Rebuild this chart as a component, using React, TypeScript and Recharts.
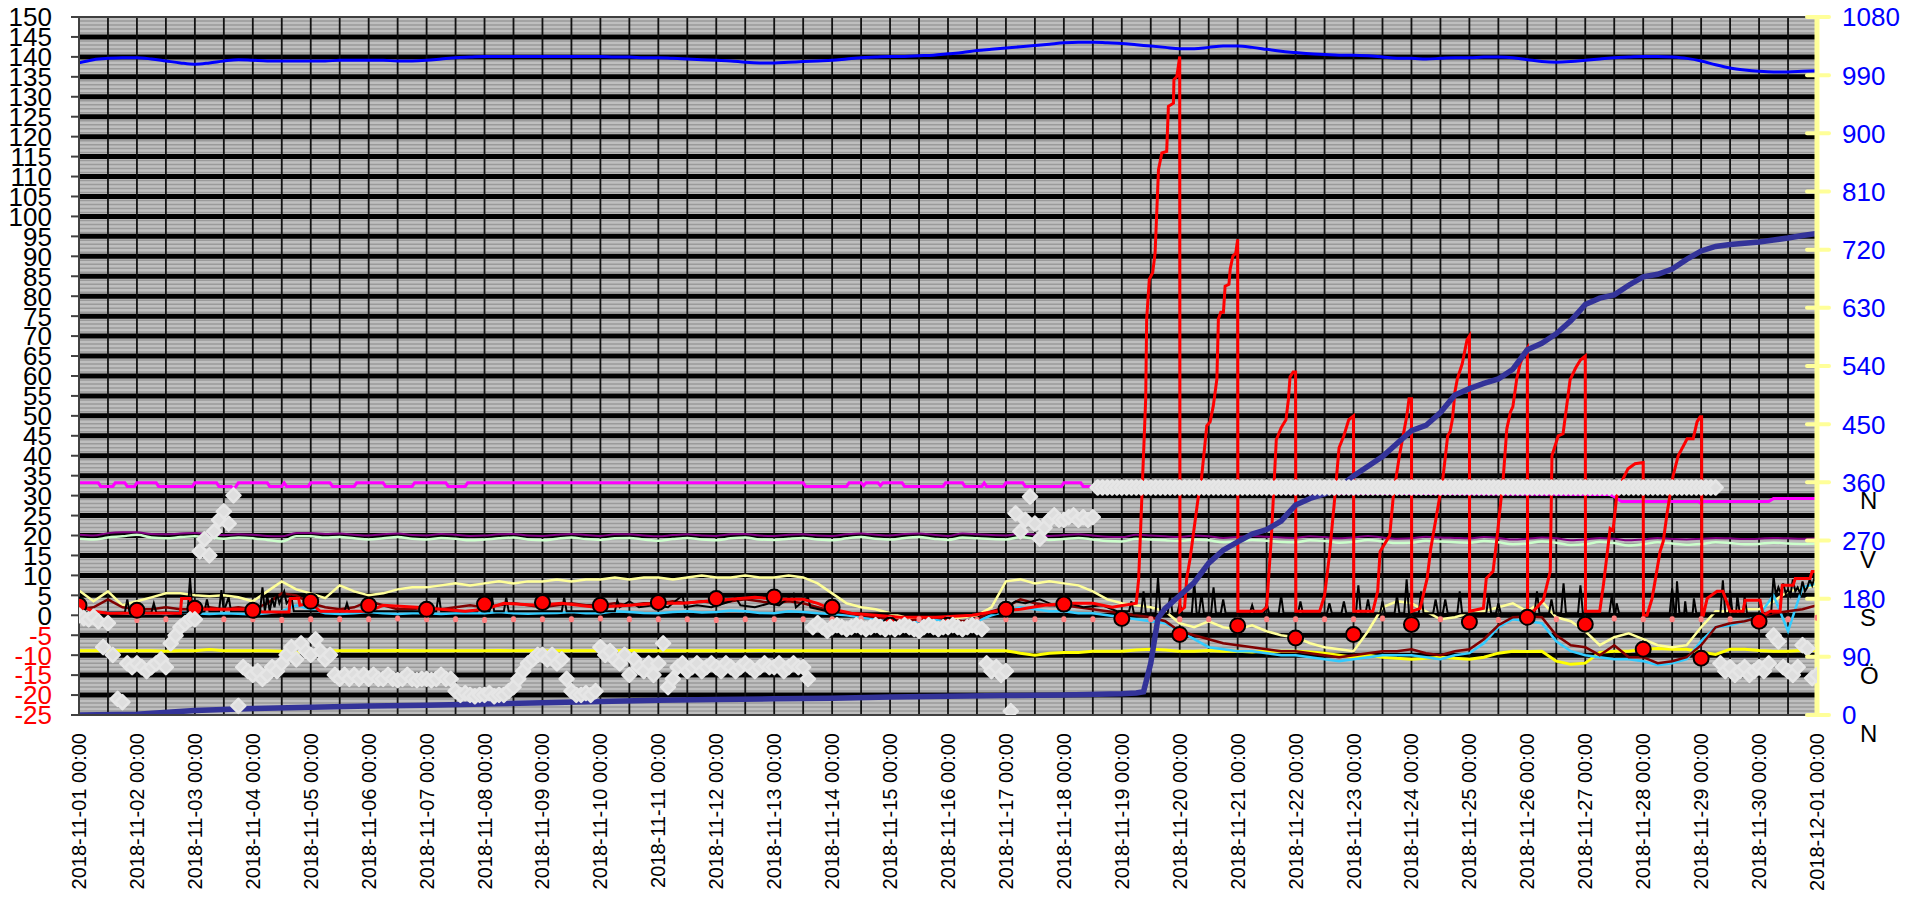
import React from 'react';
import { ComposedChart, Line, Scatter, XAxis, YAxis, CartesianGrid, ReferenceLine } from 'recharts';

const font = 'Liberation Sans, Arial, sans-serif';

const dayLabels = [
  '2018-11-01 00:00', '2018-11-02 00:00', '2018-11-03 00:00', '2018-11-04 00:00', '2018-11-05 00:00',
  '2018-11-06 00:00', '2018-11-07 00:00', '2018-11-08 00:00', '2018-11-09 00:00', '2018-11-10 00:00',
  '2018-11-11 00:00', '2018-11-12 00:00', '2018-11-13 00:00', '2018-11-14 00:00', '2018-11-15 00:00',
  '2018-11-16 00:00', '2018-11-17 00:00', '2018-11-18 00:00', '2018-11-19 00:00', '2018-11-20 00:00',
  '2018-11-21 00:00', '2018-11-22 00:00', '2018-11-23 00:00', '2018-11-24 00:00', '2018-11-25 00:00',
  '2018-11-26 00:00', '2018-11-27 00:00', '2018-11-28 00:00', '2018-11-29 00:00', '2018-11-30 00:00',
  '2018-12-01 00:00',
];

const leftTicks = [-25, -20, -15, -10, -5, 0, 5, 10, 15, 20, 25, 30, 35, 40, 45, 50, 55, 60, 65, 70, 75,
  80, 85, 90, 95, 100, 105, 110, 115, 120, 125, 130, 135, 140, 145, 150];
const rightTicks = [0, 90, 180, 270, 360, 450, 540, 630, 720, 810, 900, 990, 1080];
const compassLabels: Record<number, string> = { 0: 'N', 90: 'Ö', 180: 'S', 270: 'V', 360: 'N' };

// 6-hourly series, 2018-11-01 00:00 .. 2018-12-01 00:00 (4 values per day)
const pressure = [
  1009, 1014, 1016, 1017, 1017, 1015, 1012, 1009, 1007, 1009, 1012, 1014, 1013, 1012, 1012, 1012,
  1012, 1012, 1013, 1013, 1013, 1013, 1012, 1012, 1013, 1015, 1017, 1018, 1019, 1019, 1019, 1019,
  1019, 1019, 1019, 1019, 1019, 1018, 1018, 1017, 1017, 1016, 1015, 1014, 1013, 1012, 1010, 1009,
  1009, 1010, 1011, 1012, 1013, 1015, 1017, 1018, 1019, 1019, 1020, 1021, 1023, 1025, 1028, 1030,
  1032, 1034, 1036, 1038, 1040, 1041, 1041, 1040, 1039, 1037, 1035, 1033, 1031, 1031, 1033, 1035,
  1035, 1033, 1030, 1027, 1025, 1023, 1022, 1021, 1021, 1020, 1018, 1016, 1016, 1015, 1016, 1017,
  1017, 1018, 1018, 1017, 1014, 1011, 1010, 1011, 1013, 1015, 1017, 1018, 1019, 1019, 1018, 1016,
  1012, 1006, 1001, 998, 996, 995, 995, 996, 997,
];
const yellowLine = [
  -8.9, -8.9, -8.8, -8.9, -8.9, -8.9, -9.0, -8.9, -8.9, -8.6, -8.9, -8.9, -8.9, -8.9, -9.0, -9.3,
  -9.2, -8.9, -8.9, -8.9, -8.9, -8.9, -8.8, -8.9, -8.9, -8.9, -8.9, -8.9, -8.9, -8.8, -8.9, -8.9,
  -8.9, -8.9, -8.9, -8.9, -8.9, -8.9, -8.8, -8.9, -8.9, -8.9, -8.9, -8.9, -8.9, -8.9, -8.9, -8.8,
  -8.9, -8.9, -8.9, -8.9, -8.9, -8.9, -8.9, -8.9, -8.9, -8.9, -8.9, -8.9, -8.9, -8.9, -8.9, -8.9,
  -8.9, -9.5, -10.0, -9.5, -9.3, -9.3, -9.0, -9.0, -9.0, -8.7, -8.5, -8.7, -9.0, -9.0, -8.8, -9.0,
  -9.0, -9.2, -9.0, -9.0, -9.0, -9.2, -9.5, -10.0, -10.5, -10.0, -10.5, -10.8, -11.0, -10.8, -10.5, -10.8,
  -11.0, -10.5, -9.5, -9.0, -9.1, -9.0, -11.5, -12.3, -12.0, -9.3, -9.0, -9.0, -8.5, -8.3, -8.5, -8.5,
  -9.2, -9.8, -8.5, -8.5, -8.8, -9.0, -9.0, -8.8, -8.8,
];
const paleYellowLine = [
  6.2, 3.5, 6.0, 2.5, 3.5, 4.5, 5.5, 5.5, 5.0, 4.8, 5.0, 4.5, 3.5, 6.0, 8.5, 6.5,
  5.5, 4.3, 7.5, 6.0, 5.0, 5.5, 6.5, 7.0, 7.0, 7.5, 8.0, 7.5, 8.0, 8.5, 8.0, 8.5,
  8.5, 9.0, 8.5, 9.0, 9.0, 9.5, 9.0, 9.5, 9.5, 9.0, 9.5, 10.0, 9.5, 9.5, 10.0, 9.5,
  9.5, 10.0, 9.5, 8.0, 5.5, 3.0, 2.0, 1.5, 0.5, -0.5, -1.0, -0.5, -1.0, -0.5, 0.0, 2.0,
  8.5, 9.0, 8.0, 8.5, 8.0, 7.5, 6.0, 4.0, 3.0, 2.5, 2.0, 1.0, -2.0, -3.0, -1.5, -3.0,
  -3.5, -2.5, -4.0, -5.0, -5.5, -7.0, -8.0, -8.5, -9.0, -4.0, 2.0, 3.5, 3.0, 1.0, -1.0, -0.5,
  0.5, 1.0, 2.0, 3.0, 1.0, 3.5, -0.5, -1.5, -4.0, -7.5, -5.5, -4.5, -6.0, -7.5, -8.0, -7.5,
  -3.0, 1.0, 1.0, 1.5, 1.5, 3.5, 6.0, 6.8, 7.5,
];
const cyanLine = [
  0.3, 0.5, 0.8, 0.5, 0.2, 0.5, 0.3, 0.8, 0.5, 0.3, 0.5, 0.4, 0.2, 0.5, 1.0, 2.5,
  1.5, 0.5, 0.3, 0.5, 0.8, 0.5, 0.3, 0.5, 0.5, 0.3, 0.5, 0.6, 0.5, 0.8, 0.5, 0.4,
  0.5, 0.6, 0.8, 0.5, 0.5, 1.0, 0.8, 0.6, 0.5, 0.8, 1.0, 0.7, 0.8, 1.2, 1.0, 0.6,
  0.5, 1.0, 0.8, 0.5, 0.3, 0.0, -0.5, -1.0, -1.5, -2.0, -1.5, -1.0, -1.5, -2.0, -1.5, 0.0,
  1.0, 2.0, 1.5, 1.0, 1.0, 0.5, 0.5, 0.0, -0.5, -1.0, -1.5, -2.0, -4.0, -6.0, -8.0, -8.5,
  -9.0, -9.0, -9.5, -10.0, -10.0, -10.5, -11.0, -11.5, -11.0, -10.5, -10.0, -10.0, -10.0, -10.5, -11.0, -10.0,
  -9.5, -7.0, -3.0, -1.0, -1.5, -2.0, -6.5, -9.0, -10.0, -10.5, -11.0, -11.0, -11.5, -12.5, -12.0, -11.0,
  -6.5, -3.0, -2.5, -1.5, 0.0, 5.0, -4.0, 7.0, 8.0,
];
const maroonLine = [
  1.5, 2.0, 4.0, 2.0, 1.5, 1.5, 2.0, 1.5, 1.5, 2.0, 1.5, 2.0, 1.5, 3.0, 5.5, 5.0,
  3.0, 2.0, 1.5, 2.0, 3.5, 2.5, 1.5, 1.5, 2.0, 1.5, 2.0, 2.5, 2.0, 2.5, 3.0, 2.5,
  2.0, 2.5, 3.0, 2.5, 2.5, 3.0, 2.5, 3.0, 3.0, 3.5, 3.0, 3.5, 3.0, 3.5, 4.0, 3.5,
  3.0, 3.5, 3.0, 2.0, 1.0, 0.5, 0.0, -0.5, -1.0, -1.5, -1.0, -0.5, -1.0, -1.5, -1.0, 1.0,
  2.0, 4.0, 3.0, 2.5, 2.5, 2.0, 1.5, 1.0, 0.5, 0.0, -0.5, -1.5, -4.0, -5.0, -6.0, -7.0,
  -7.5, -8.0, -8.5, -9.0, -9.0, -9.5, -10.0, -10.5, -10.0, -9.5, -9.0, -9.0, -8.5, -9.5, -10.0, -9.0,
  -8.5, -6.0, -2.5, -0.5, -0.3, -0.5, -5.0, -7.5, -8.0, -10.0, -7.5, -10.5, -10.5, -12.0, -11.5, -10.5,
  -7.5, -3.0, -2.0, -1.5, -0.5, 0.5, 1.0, 1.5, 2.5,
];
const greenLine = [
  19.2, 19.0, 19.5, 19.8, 20.2, 19.5, 19.3, 19.6, 19.8, 19.5, 19.2, 19.5, 19.3, 18.9, 18.5, 19.8,
  19.8, 19.5, 19.6, 19.3, 19.0, 19.3, 19.6, 19.2, 19.0, 19.4, 19.2, 18.8, 19.0, 19.3, 19.5, 19.0,
  18.8, 19.2, 19.5, 19.1, 18.9, 19.3, 19.4, 19.0, 18.7, 19.1, 19.4, 19.0, 18.8, 19.3, 19.5, 19.0,
  18.9, 19.2, 19.4, 19.0, 18.8, 19.3, 19.6, 19.2, 19.0, 19.4, 19.6, 19.2, 18.9, 19.5, 19.3, 19.1,
  19.0, 19.6, 19.2, 18.9, 19.1, 19.4, 19.0, 18.6, 18.5, 19.2, 19.0, 18.8, 18.6, 19.0, 18.8, 18.3,
  18.5, 18.9, 18.7, 18.4, 18.3, 18.8, 18.6, 18.2, 18.4, 18.9, 18.5, 18.1, 18.2, 18.7, 18.5, 18.3,
  18.2, 18.6, 18.3, 17.8, 18.0, 18.5, 18.2, 17.6, 17.8, 18.4, 18.1, 17.5, 17.8, 18.3, 18.0, 17.7,
  17.9, 18.3, 18.1, 17.8, 17.9, 18.2, 18.0, 17.9, 18.0,
];
const purpleLine = [
  20.2, 20.0, 20.6, 20.8, 20.8, 20.4, 20.3, 20.5, 20.6, 20.3, 20.1, 20.3, 20.2, 19.9, 19.8, 20.6,
  20.6, 20.4, 20.5, 20.2, 20.0, 20.3, 20.5, 20.1, 20.0, 20.4, 20.2, 19.9, 20.0, 20.3, 20.4, 20.0,
  19.9, 20.2, 20.4, 20.1, 19.9, 20.3, 20.3, 20.0, 19.8, 20.1, 20.3, 20.0, 19.9, 20.3, 20.4, 20.0,
  19.9, 20.2, 20.3, 20.0, 19.9, 20.3, 20.5, 20.2, 20.0, 20.4, 20.5, 20.2, 19.9, 20.5, 20.3, 20.1,
  20.0, 20.5, 20.2, 19.9, 20.1, 20.3, 20.0, 19.7, 19.6, 20.2, 20.0, 19.8, 19.6, 20.0, 19.8, 19.4,
  19.6, 19.9, 19.7, 19.5, 19.4, 19.8, 19.6, 19.3, 19.5, 19.9, 19.5, 19.2, 19.3, 19.7, 19.5, 19.4,
  19.3, 19.6, 19.4, 19.0, 19.2, 19.5, 19.3, 18.8, 19.0, 19.4, 19.2, 18.8, 19.0, 19.4, 19.1, 19.0,
  19.2, 19.4, 19.3, 19.1, 19.2, 19.4, 19.3, 19.2, 19.3,
];

// cumulative precipitation (right axis), hours from 11-01 00:00
const rainHours = [0, 24, 48, 72, 96, 120, 144, 168, 192, 216, 240, 264, 288, 312, 336, 360, 384, 408, 432, 438,
  441, 444, 447, 450, 456, 462, 468, 474, 480, 486, 492, 498, 504, 510, 516, 522, 528, 534, 540, 546, 552, 558,
  564, 570, 576, 582, 588, 594, 600, 606, 612, 618, 624, 630, 636, 642, 648, 654, 660, 666, 672, 678, 684, 690,
  696, 702, 708, 714, 720];
const rainTotal = [0, 1, 7, 10, 12, 14, 15, 17, 19, 21, 23, 24, 25, 26, 28, 29, 30, 31, 33, 34,
  36, 80, 150, 165, 185, 205, 235, 255, 268, 280, 287, 300, 325, 335, 342, 352, 370, 385, 400, 420, 440, 448,
  468, 495, 505, 513, 520, 535, 565, 575, 590, 610, 635, 645, 650, 665, 678, 682, 690, 705, 718, 725, 728, 730,
  732, 735, 738, 742, 745];

// [hour, value]
const magentaPoints: [number, number][] = [
  [0, 33.2], [8, 33.2], [9, 32.3], [14, 32.3], [15, 33.2], [19, 33.2], [20, 32.3], [23, 32.3], [24, 33.2], [32, 33.2],
  [33, 32.3], [47, 32.3], [48, 33.2], [57, 33.2], [58, 32.3], [63, 32.3], [64, 31.7], [65, 32.3], [66, 33.2], [78, 33.2],
  [79, 32.3], [84, 32.3], [85, 33.2], [86, 32.3], [95, 32.3], [96, 33.2], [104, 33.2], [105, 32.3], [114, 32.3], [115, 33.2],
  [126, 33.2], [127, 32.3], [138, 32.3], [139, 33.2], [152, 33.2], [153, 32.3], [160, 32.3], [161, 33.2], [300, 33.2], [301, 32.3],
  [318, 32.3], [319, 33.2], [324, 33.2], [325, 32.5], [326, 33.2], [331, 33.2], [332, 32.5], [333, 33.2], [341, 33.2], [342, 32.3],
  [358, 32.3], [359, 33.2], [366, 33.2], [367, 32.3], [374, 32.3], [375, 33.2], [376, 32.3], [383, 32.3], [384, 33.2], [391, 33.2],
  [392, 32.3], [407, 32.3], [408, 33.2], [415, 33.2], [416, 32.3], [420, 32.3], [425, 31.5], [440, 31.0], [634, 30.3], [636, 29.75],
  [639, 28.5], [671, 28.5], [672, 28.0], [673, 28.5], [700, 28.5], [702, 29.3], [720, 29.3],
];

const redPoints: [number, number][] = [
  [0, 2.5], [6, 1.0], [12, 0.5], [42, 0.5], [42.5, 4.2], [46, 4.2], [46.5, 2.2], [50, 2.2], [52, 1.5], [70, 1.5],
  [76, 0.8], [87, 0.8], [87.5, 4.2], [91, 4.2], [91.5, 2.5], [96, 3.0], [100, 1.0], [120, 1.0], [126, 2.5], [140, 2.0],
  [150, 1.5], [160, 1.0], [168, 1.5], [176, 3.0], [190, 2.5], [200, 3.0], [214, 2.0], [228, 2.5], [240, 3.0], [250, 3.0],
  [260, 3.5], [270, 4.0], [280, 4.5], [290, 4.0], [300, 4.0], [306, 3.0], [312, 1.5], [320, 0.5], [330, 0.0], [340, -0.5],
  [355, -0.5], [370, 0.0], [380, 1.0], [390, 1.5], [400, 2.5], [410, 3.0], [420, 3.0], [428, 2.0], [438, 3.0],
  [439, 9.25], [441.9, 54.25], [442.3, 74.25], [443.4, 84.25], [444.8, 85.9], [445.8, 90.9], [447.2, 111.75], [448.6, 115.9],
  [450.6, 116.3], [451.3, 127.6], [453.4, 128.4], [453.6, 134.3], [454.8, 135.1], [456, 140.1],
  [456.1, 1], [458, 2], [458.9, 9.25], [460.3, 14.25], [463.6, 29.25], [465, 34.25], [467.2, 47.5], [468.6, 48.5], [469.9, 52.5],
  [471.4, 59.25], [472, 74.25], [473, 76], [474.1, 76], [474.8, 82.5], [476.4, 83], [476.9, 86.75], [478, 90], [479.2, 90.75], [480, 94.25],
  [480.1, 1], [490, 1], [492, 2], [494, 20], [496, 44], [498, 47], [500, 49], [501, 54], [501.7, 59.75], [503, 61], [504, 61],
  [504.1, 1], [514, 1], [516, 5], [518, 15], [520, 28], [522, 42], [524, 45], [526, 49], [528, 50],
  [528.1, 1], [536, 1], [538, 6], [539, 16], [543, 20], [544.5, 30], [547, 40], [550, 49.75], [551, 54.3], [552, 54.3],
  [552.1, 1], [555.6, 1.75], [558.5, 9.25], [560, 16.75], [565, 34.25], [567, 45], [568, 46], [569, 49.25], [570, 56], [571, 59.25],
  [573, 63], [575, 69], [576, 70],
  [576.1, 1], [581.8, 1.75], [583, 9.25], [585.8, 11], [587.4, 19.25], [590, 34.25], [591.5, 46.75], [593, 51], [594, 52.25],
  [595.6, 59.25], [597, 63], [599, 66], [600, 67],
  [600.1, 1], [602.5, 1], [606.6, 3.75], [609.5, 11], [610.2, 40], [612.8, 45], [614.8, 45.5], [617.7, 59], [620, 62], [622, 64], [624, 65],
  [624.1, 1], [630, 1], [631.5, 7.5], [634.3, 21.75], [635.5, 21.25], [637, 29.75], [639.7, 34.25], [641.7, 36.75], [644.6, 38], [648, 38.3],
  [648.1, 0], [649.6, 0], [651.7, 4.25], [655, 16], [656.3, 18.5], [658, 26], [660.4, 35], [662.5, 40], [666.2, 44.25], [668.7, 44.25],
  [670.3, 48.5], [671.6, 49.75], [672.2, 49.75],
  [672.3, 0], [672.9, 0], [674.5, 4.25], [678.6, 6], [681, 6], [684, 1], [689.4, 1], [690.2, 3.75], [696.4, 3.75], [697.7, 0],
  [700.6, 1], [704.7, 1], [705.6, 7.5], [710.1, 7.5], [711, 9.25], [717.1, 9.25], [718, 11], [720, 11],
];

const blackPoints: [number, number][] = [
  [0, 0.7], [19, 0.7], [20, 4], [21, 0.7], [30, 0.7], [31, 3], [32, 0.7], [45, 0.7], [46, 9.3], [47, 0.7],
  [52, 1], [53, 4], [54, 1], [58, 1], [59, 6.3], [60, 1], [62, 4.5], [63, 1], [75, 1], [76, 7],
  [77, 1], [78, 5], [79, 1], [80, 4.3], [81, 2], [82, 5.5], [83, 3], [85, 6], [86, 3], [88, 4.5],
  [89, 1], [110, 1], [111, 3], [112, 1], [148, 1], [149, 5.4], [150, 1], [165, 1], [166, 4], [167, 1],
  [170, 1], [171, 5], [172, 1], [176, 1], [177, 4.5], [178, 1], [200, 1], [201, 4.5], [202, 1], [222, 1],
  [223, 3.7], [224, 2], [228, 3.5], [232, 2], [238, 2.5], [244, 2], [250, 5], [251, 2], [256, 2.5], [262, 2],
  [270, 3.5], [272, 4.5], [274, 2.5], [280, 2], [286, 3], [290, 2.5], [296, 5.4], [297, 2], [302, 4.5], [303, 2],
  [310, 1], [320, 0.5], [380, 0.5], [384, 2], [388, 3.5], [392, 3], [398, 4], [404, 2.5], [410, 3], [416, 2],
  [424, 2.5], [430, 1], [435, 1], [436, 3.5], [437, 0.5], [440, 0.5], [441, 6], [442, 0.5], [446, 0.5], [447, 9.5],
  [448, 0.5], [451, 0.5], [452, 5], [453, 0.5], [455, 0.5], [456, 3], [457, 0.5], [461, 0.5], [462, 8.5], [463, 0.5],
  [464, 0.5], [465, 5.5], [466, 0.5], [469, 0.5], [470, 7], [471, 0.5], [473, 0.5], [474, 4], [475, 0.5], [485, 0.5],
  [486, 2.5], [487, 0.5], [491, 0.5], [492, 3], [493, 0.5], [497, 0.5], [498, 5], [499, 0.5], [505, 0.5], [506, 3.5],
  [507, 0.5], [517, 0.5], [518, 3], [519, 0.5], [523, 0.5], [524, 3.5], [525, 0.5], [529, 0.5], [530, 7.5], [531, 0.5],
  [533, 0.5], [534, 4], [535, 0.5], [539, 0.5], [540, 3.5], [541, 0.5], [545, 0.5], [546, 5], [547, 0.5], [549, 0.5],
  [550, 9], [551, 0.5], [555, 0.5], [556, 6], [557, 0.5], [561, 0.5], [562, 4], [563, 0.5], [565, 0.5], [566, 4],
  [567, 0.5], [571, 0.5], [572, 6], [573, 0.5], [583, 0.5], [584, 5], [585, 0.5], [587, 0.5], [588, 3], [589, 0.5],
  [603, 0.5], [604, 6], [605, 0.5], [609, 0.5], [610, 4], [611, 0.5], [614, 0.5], [615, 8], [616, 0.5], [621, 0.5],
  [622, 7.5], [623, 0.5], [634, 0.5], [635, 5], [636, 0.5], [636.5, 0.5], [637, 3], [638, 0.5], [659, 0.5], [660, 6.75],
  [661, 0.5], [661.5, 0.5], [662, 8.5], [663, 0.5], [665, 0.5], [665.4, 3.5], [666, 0.5], [668.5, 0.5], [669, 4.25], [670, 0.5],
  [680, 0.5], [681, 8.75], [682, 0.5], [683.5, 0.5], [684, 6.25], [685, 0.5], [686.5, 0.5], [687, 5], [688, 0.5], [689.5, 0.5],
  [690, 4.75], [691, 0.5], [701, 0.5], [702, 9.75], [703, 5], [704, 7], [705, 5.5], [706, 8], [707, 5.5], [708, 6.5],
  [709, 5], [710, 9], [711, 6], [712, 7], [713, 5.5], [714, 8.5], [715, 6], [716, 7], [717, 9], [718, 7.5],
  [719, 9.5], [720, 8],
];

// daily value at 00:00, 11-01 .. 11-30
const dailyDots = [2.5, 1.25, 1.75, 1.25, 3.5, 2.5, 1.5, 2.8, 3.2, 2.5, 3.2, 4.2, 4.6, 2.0, -2.5, -2.5, 1.5, 2.8,
  -0.8, -4.8, -2.6, -5.7, -4.8, -2.3, -1.7, -0.5, -2.25, -8.5, -10.75, -1.5];

// every 12 h
const pinkMarks = [
  -1.0, -1.0, -1.2, -1.0, -0.8, -1.0, -1.0, -1.2, -1.0, -1.0, -1.0, -0.8, -1.0, -1.0, -1.2, -1.0,
  -1.0, -1.0, -0.8, -1.0, -1.0, -1.0, -1.2, -1.0, -1.0, -1.0, -1.0, -0.8, -1.0, -1.0, -1.0, -1.2,
  -1.0, -1.0, -1.0, -1.0, -0.8, -1.0, -1.0, -1.0, -1.2, -1.0, -1.0, -1.0, -1.0, -0.8, -1.0, -1.0,
  -1.0, -1.2, -1.0, -1.0, -1.0, -0.8, -1.0, -1.0, -1.0, -1.0, -1.2, -1.0, -0.6,
];

// wind direction in degrees, every 2 h (12 per day)
const windDir = [
  154, 150, 148, 152, 145, 105, 142, 93, 25, 20, 80, 74,
  80, 74, 68, 74, 80, 86, 74, 111, 123, 136, 142, 148,
  148, 253, 272, 247, 284, 302, 315, 296, 340, 14, 74, 68,
  62, 68, 56, 62, 74, 68, 80, 93, 105, 86, 111, 99,
  93, 117, 99, 86, 93, 62, 56, 62, 56, 62, 56, 62,
  56, 62, 56, 56, 62, 56, 54, 56, 62, 56, 54, 56,
  56, 54, 56, 62, 56, 56, 37, 31, 34, 31, 29, 31,
  31, 34, 29, 31, 31, 37, 43, 56, 68, 80, 86, 93,
  93, 86, 93, 80, 86, 56, 37, 31, 31, 34, 31, 37,
  105, 93, 99, 86, 80, 93, 62, 86, 74, 68, 80, 62,
  80, 111, 43, 56, 74, 80, 68, 74, 80, 68, 74, 80,
  74, 68, 80, 74, 68, 74, 80, 74, 68, 74, 80, 74,
  74, 80, 68, 74, 80, 74, 74, 56, 136, 142, 136, 130,
  136, 139, 136, 133, 136, 139, 136, 133, 136, 139, 136, 133,
  136, 133, 136, 139, 136, 133, 130, 136, 139, 136, 133, 136,
  136, 139, 136, 133, 136, 139, 136, 133, 80, 68, 74, 62,
  68, 6, 312, 284, 302, 338, 296, 273, 290, 302, 309, 302,
  302, 306, 309, 302, 306, 302, 306, 352, 352, 352, 352, 352,
  352, 352, 352, 352, 352, 352, 352, 352, 352, 352, 352, 352,
  352, 352, 352, 352, 352, 352, 352, 352, 352, 352, 352, 352,
  352, 352, 352, 352, 352, 352, 352, 352, 352, 352, 352, 352,
  352, 352, 352, 352, 352, 352, 352, 352, 352, 352, 352, 352,
  352, 352, 352, 352, 352, 352, 352, 352, 352, 352, 352, 352,
  352, 352, 352, 352, 352, 352, 352, 352, 352, 352, 352, 352,
  352, 352, 352, 352, 352, 352, 352, 352, 352, 352, 352, 352,
  352, 352, 352, 352, 352, 352, 352, 352, 352, 352, 352, 352,
  352, 352, 352, 352, 352, 352, 352, 352, 352, 352, 352, 352,
  352, 352, 352, 352, 352, 352, 352, 352, 352, 352, 352, 352,
  352, 352, 352, 352, 80, 68, 74, 62, 68, 74, 62, 68,
  74, 68, 80, 123, 114, 74, 68, 62, 74, 108, 103, 57,
  62,
];

const sixHourRows = pressure.map((p, i) => ({
  t: i * 6,
  pressure: p,
  yellow: yellowLine[i],
  paleYellow: paleYellowLine[i],
  cyan: cyanLine[i],
  maroon: maroonLine[i],
  green: greenLine[i],
  purple: purpleLine[i],
}));
const rainRows = rainHours.map((t, i) => ({ t, v: rainTotal[i] }));
const magentaRows = magentaPoints.map(([t, v]) => ({ t, v }));
const redRows = redPoints.map(([t, v]) => ({ t, v }));
const blackRows = blackPoints.map(([t, v]) => ({ t, v }));
const dotRows = dailyDots.map((v, i) => ({ t: i * 24, v }));
const pinkRows = pinkMarks.map((v, i) => ({ t: i * 12, v }));
const windRows = windDir.map((v, i) => ({ t: i * 2, v }));

const halfDayTicks = dayLabels.flatMap((_, i) => (i < dayLabels.length - 1 ? [i * 24, i * 24 + 12] : [i * 24]));
const minorGrid = Array.from({ length: 176 }, (_, i) => -25 + i);
const majorGrid = leftTicks.filter((v) => v > -25 && v < 150);
const innerVerticals = halfDayTicks.filter((v) => v > 0 && v < 720);

function LeftTick(props: any) {
  const { x, y, payload } = props;
  const v = payload.value as number;
  return (
    <g>
      <line x1={x - 8} x2={x} y1={y} y2={y} stroke="#404040" strokeWidth={2} />
      <text x={x - 27} y={y} dy="0.36em" textAnchor="end" fontSize={26} fontFamily={font}
        fill={v < 0 ? '#ff0000' : '#000000'}>{v}</text>
    </g>
  );
}

function RightTick(props: any) {
  const { x, y, payload } = props;
  const v = payload.value as number;
  const letter = compassLabels[v];
  return (
    <g>
      <line x1={x - 10} x2={x + 12} y1={y} y2={y} stroke="#ffff99" strokeWidth={4} strokeLinecap="round" />
      <text x={x + 25} y={y} dy="0.36em" textAnchor="start" fontSize={26} fontFamily={font} fill="#0000ff">{v}</text>
      {letter && (
        <text x={x + 43} y={y + 27} textAnchor="start" fontSize={24} fontFamily={font} fill="#000000">{letter}</text>
      )}
    </g>
  );
}

function DayTick(props: any) {
  const { x, y, payload } = props;
  const v = payload.value as number;
  if (v % 24 !== 0) return <g />;
  const tx = x + 7;
  const ty = y + 18;
  return (
    <text x={tx} y={ty} transform={`rotate(-90 ${tx} ${ty})`} textAnchor="end" fontSize={20} fontFamily={font} fill="#000000">
      {dayLabels[v / 24]}
    </text>
  );
}

function Diamond(props: any) {
  const { cx, cy } = props;
  if (cx == null || cy == null) return <g />;
  const r = 7;
  return (
    <path d={`M${cx},${cy - r}L${cx + r},${cy}L${cx},${cy + r}L${cx - r},${cy}Z`}
      fill="#dedede" stroke="#e6e6e6" strokeWidth={2.5} strokeLinejoin="round" />
  );
}

function RedDot(props: any) {
  const { cx, cy } = props;
  if (cx == null || cy == null) return <g />;
  return <circle cx={cx} cy={cy} r={7.5} fill="#ff0000" stroke="#000000" strokeWidth={2} />;
}

function PinkMark(props: any) {
  const { cx, cy } = props;
  if (cx == null || cy == null) return <g />;
  return <rect x={cx - 2.5} y={cy - 3} width={5} height={6} rx={2} fill="#ff8080" />;
}

export default function App() {
  return (
    <div style={{ margin: '-8px 0 0 -8px' }}>
      <ComposedChart width={1917} height={898} data={sixHourRows} margin={{ top: 17, right: 0, bottom: 0, left: 8 }}>
        <CartesianGrid xAxisId="x" yAxisId="left" fill="#bfbfbf" fillOpacity={1} stroke="#9a9a9a" strokeWidth={1.5}
          vertical={false} horizontalValues={minorGrid} />
        <CartesianGrid xAxisId="x" yAxisId="left" stroke="#000000" strokeWidth={5} vertical={false}
          horizontalValues={majorGrid} />
        <CartesianGrid xAxisId="x" yAxisId="left" stroke="#111111" strokeWidth={1.8} horizontal={false}
          verticalValues={innerVerticals} />
        <XAxis xAxisId="x" dataKey="t" type="number" domain={[0, 720]} ticks={halfDayTicks} interval={0}
          tickLine={false} tickSize={0} tickMargin={0} height={183} axisLine={{ stroke: '#404040', strokeWidth: 2 }}
          tick={(p: any) => <DayTick {...p} />} allowDataOverflow />
        <YAxis yAxisId="left" type="number" domain={[-25, 150]} ticks={leftTicks} interval={0} width={71}
          tickLine={false} tickSize={0} tickMargin={0} axisLine={{ stroke: '#404040', strokeWidth: 2 }}
          tick={(p: any) => <LeftTick {...p} />} allowDataOverflow />
        <YAxis yAxisId="right" orientation="right" type="number" domain={[0, 1080]} ticks={rightTicks} interval={0}
          width={100} tickLine={false} tickSize={0} tickMargin={0} axisLine={{ stroke: '#ffff99', strokeWidth: 5 }}
          tick={(p: any) => <RightTick {...p} />} allowDataOverflow />
        <ReferenceLine xAxisId="x" yAxisId="left" y={150} stroke="#404040" strokeWidth={2} />

        <Line xAxisId="x" yAxisId="left" dataKey="yellow" type="linear" stroke="#ffff00" strokeWidth={3} dot={false} activeDot={false} isAnimationActive={false} />
        <Line xAxisId="x" yAxisId="left" dataKey="paleYellow" type="linear" stroke="#ffff99" strokeWidth={2.5} dot={false} activeDot={false} isAnimationActive={false} />
        <Line xAxisId="x" yAxisId="left" dataKey="green" type="monotone" stroke="#ccffcc" strokeWidth={2.5} dot={false} activeDot={false} isAnimationActive={false} />
        <Line xAxisId="x" yAxisId="left" dataKey="purple" type="monotone" stroke="#800080" strokeWidth={2} dot={false} activeDot={false} isAnimationActive={false} />
        <Line xAxisId="x" yAxisId="left" data={magentaRows} dataKey="v" type="linear" stroke="#ff00ff" strokeWidth={3} dot={false} activeDot={false} isAnimationActive={false} />
        <Line xAxisId="x" yAxisId="left" dataKey="cyan" type="linear" stroke="#33ccff" strokeWidth={2.5} dot={false} activeDot={false} isAnimationActive={false} />
        <Line xAxisId="x" yAxisId="left" dataKey="maroon" type="linear" stroke="#800000" strokeWidth={2.5} dot={false} activeDot={false} isAnimationActive={false} />
        <Line xAxisId="x" yAxisId="left" data={blackRows} dataKey="v" type="linear" stroke="#000000" strokeWidth={2} dot={false} activeDot={false} isAnimationActive={false} />
        <Scatter xAxisId="x" yAxisId="left" data={pinkRows} dataKey="v" shape={(p: any) => <PinkMark {...p} />} isAnimationActive={false} />
        <Line xAxisId="x" yAxisId="left" data={redRows} dataKey="v" type="linear" stroke="#ff0000" strokeWidth={3} dot={false} activeDot={false} isAnimationActive={false} />
        <Line xAxisId="x" yAxisId="right" dataKey="pressure" type="monotone" stroke="#0000ff" strokeWidth={3} dot={false} activeDot={false} isAnimationActive={false} />
        <Line xAxisId="x" yAxisId="right" data={rainRows} dataKey="v" type="linear" stroke="#333399" strokeWidth={5.5} dot={false} activeDot={false} isAnimationActive={false} />
        <Scatter xAxisId="x" yAxisId="left" data={dotRows} dataKey="v" shape={(p: any) => <RedDot {...p} />} isAnimationActive={false} />
        <Scatter xAxisId="x" yAxisId="right" data={windRows} dataKey="v" shape={(p: any) => <Diamond {...p} />} isAnimationActive={false} />
      </ComposedChart>
    </div>
  );
}
